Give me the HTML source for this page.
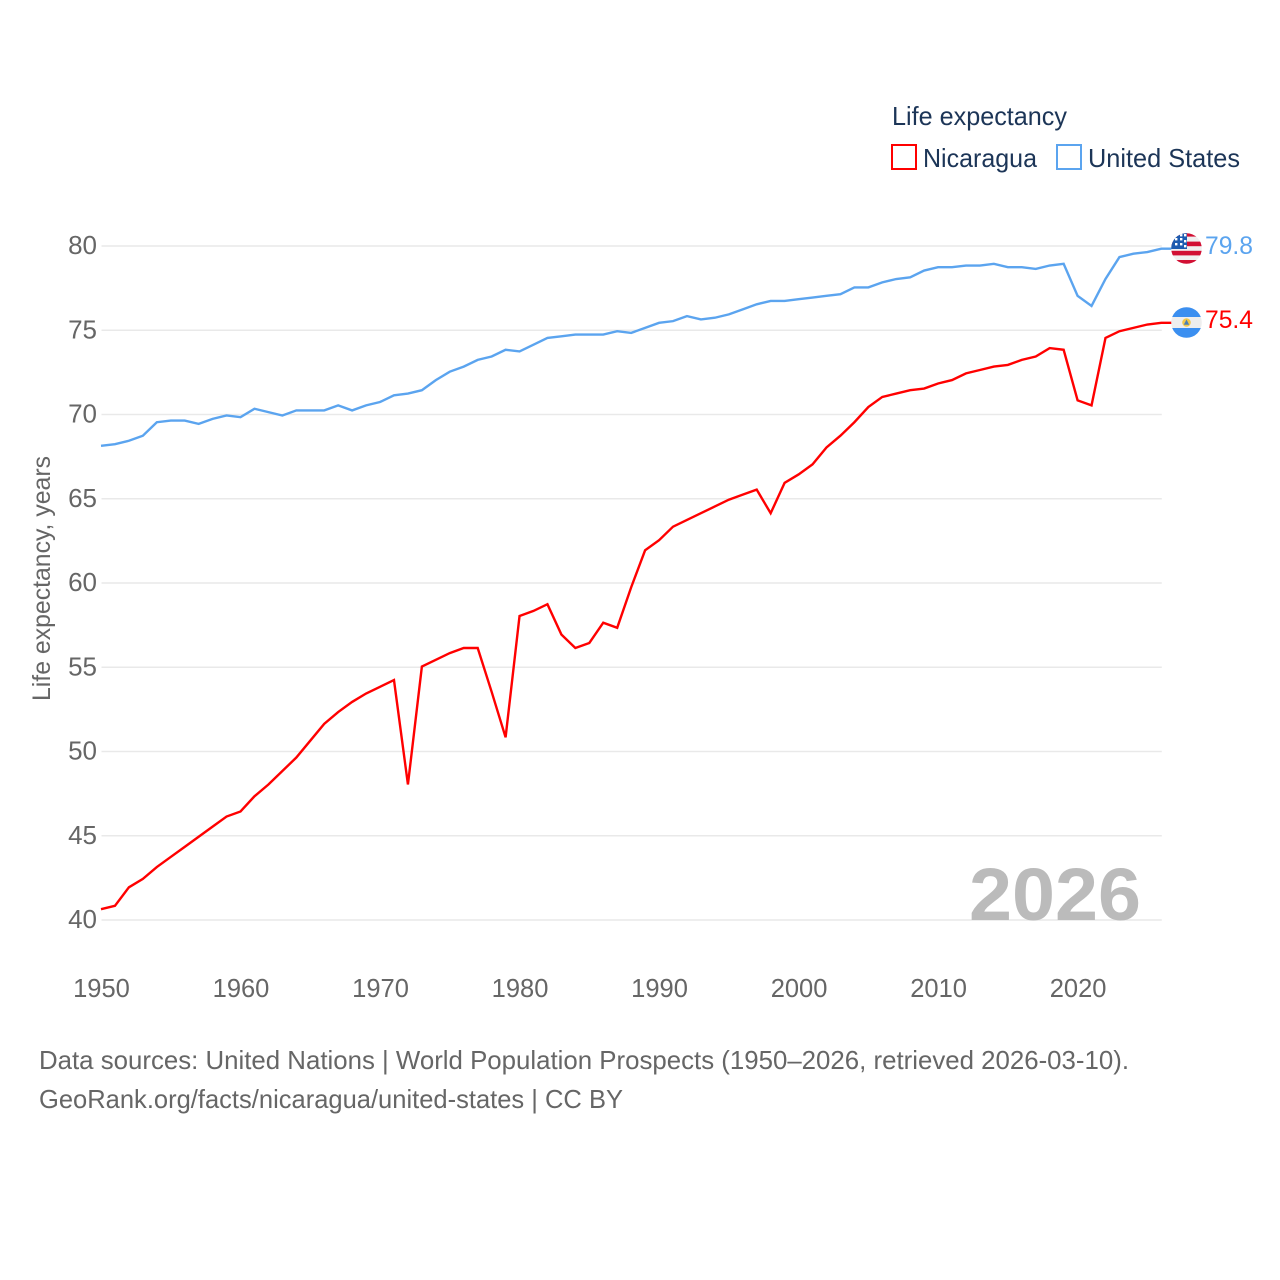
<!DOCTYPE html>
<html lang="en">
<head>
<meta charset="utf-8">
<title>Life expectancy: Nicaragua and United States</title>
<style>
html,body{margin:0;padding:0;background:#fff;}
svg{display:block;font-family:"Liberation Sans",sans-serif;}
</style>
</head>
<body>
<svg id="chart" xmlns="http://www.w3.org/2000/svg" width="1280" height="1280" viewBox="0 0 1280 1280">
  <defs>
    <clipPath id="us-clip"><circle cx="1186.5" cy="248.5" r="15.3"/></clipPath>
    <clipPath id="ni-clip"><circle cx="1186.5" cy="322.5" r="15.3"/></clipPath>
  </defs>
  <rect width="1280" height="1280" fill="#fff"/>

  <g>
    <text x="892" y="125" font-size="26" fill="#1c3557" textLength="175" lengthAdjust="spacingAndGlyphs">Life expectancy</text>
    <g>
      <rect x="892" y="145" width="24" height="24" fill="#fff" stroke="#ff0000" stroke-width="2"/>
      <text x="923" y="167" font-size="26" fill="#1c3557" textLength="114" lengthAdjust="spacingAndGlyphs">Nicaragua</text>
    </g>
    <g>
      <rect x="1057" y="145" width="24" height="24" fill="#fff" stroke="#5ba4ef" stroke-width="2"/>
      <text x="1088" y="167" font-size="26" fill="#1c3557" textLength="152" lengthAdjust="spacingAndGlyphs">United States</text>
    </g>
  </g>

  <g id="grid"></g>
  <g id="y-ticks"></g>
  <g id="x-ticks"></g>

  <text transform="translate(50,578.5) rotate(-90)" text-anchor="middle" font-size="25" fill="#666" textLength="245" lengthAdjust="spacingAndGlyphs">Life expectancy, years</text>

  <text x="969" y="920" font-size="74" font-weight="700" fill="#bbbbbb" textLength="172" lengthAdjust="spacingAndGlyphs">2026</text>

  <g id="series" transform="translate(-0.5,-0.7)"></g>

  <g>
    <g clip-path="url(#us-clip)">
      <rect x="1170" y="232" width="34" height="34" fill="#f0f0f0"/>
      <rect x="1170" y="232" width="34" height="4.6" fill="#d21034"/>
      <rect x="1170" y="241.6" width="34" height="4.6" fill="#d21034"/>
      <rect x="1170" y="250.8" width="34" height="4.6" fill="#d21034"/>
      <rect x="1170" y="260" width="34" height="5" fill="#d21034"/>
      <rect x="1170" y="232" width="17" height="17" fill="#1d5bb0"/>
      <g fill="#fff">
        <rect x="1175" y="238" width="2.4" height="2.4"/><rect x="1180" y="238" width="2.4" height="2.4"/><rect x="1184" y="234" width="2.4" height="2.4"/>
        <rect x="1180" y="234" width="2.4" height="2.4"/><rect x="1175" y="243" width="2.4" height="2.4"/><rect x="1180" y="243" width="2.4" height="2.4"/><rect x="1184" y="240" width="2.4" height="2.4"/><rect x="1184" y="245" width="2.4" height="2.4"/>
      </g>
    </g>
  </g>
  <g>
    <g clip-path="url(#ni-clip)">
      <rect x="1170" y="306" width="34" height="34" fill="#eeeeee"/>
      <rect x="1170" y="306" width="34" height="11" fill="#3b8ff0"/>
      <rect x="1170" y="328" width="34" height="11" fill="#3b8ff0"/>
      <circle cx="1186.5" cy="322.5" r="4.3" fill="#f2c94c"/>
      <polygon points="1186.5,319.5 1183.8,324.8 1189.2,324.8" fill="#4a7fb5"/>
    </g>
  </g>

  <text id="value-us" x="1205" y="254" font-size="25" fill="#5ba4ef" textLength="48" lengthAdjust="spacingAndGlyphs"></text>
  <text id="value-ni" x="1205" y="328" font-size="25" fill="#ff0000" textLength="48" lengthAdjust="spacingAndGlyphs"></text>

  <g>
    <text x="39" y="1069" font-size="26" fill="#666" textLength="1090" lengthAdjust="spacingAndGlyphs">Data sources: United Nations | World Population Prospects (1950–2026, retrieved 2026-03-10).</text>
    <text x="39" y="1108" font-size="26" fill="#666" textLength="584" lengthAdjust="spacingAndGlyphs">GeoRank.org/facts/nicaragua/united-states | CC BY</text>
  </g>
</svg>
<script>
const yearStart = 1950;
const yTickValues = [40, 45, 50, 55, 60, 65, 70, 75, 80];
const xTickYears = [1950, 1960, 1970, 1980, 1990, 2000, 2010, 2020];
const nicaraguaValues = [
  40.6, 40.8, 41.9, 42.4, 43.1, 43.7, 44.3, 44.9, 45.5, 46.1,
  46.4, 47.3, 48.0, 48.8, 49.6, 50.6, 51.6, 52.3, 52.9, 53.4,
  53.8, 54.2, 48.0, 55.0, 55.4, 55.8, 56.1, 56.1, 53.5, 50.8,
  58.0, 58.3, 58.7, 56.9, 56.1, 56.4, 57.6, 57.3, 59.7, 61.9,
  62.5, 63.3, 63.7, 64.1, 64.5, 64.9, 65.2, 65.5, 64.1, 65.9,
  66.4, 67.0, 68.0, 68.7, 69.5, 70.4, 71.0, 71.2, 71.4, 71.5,
  71.8, 72.0, 72.4, 72.6, 72.8, 72.9, 73.2, 73.4, 73.9, 73.8,
  70.8, 70.5, 74.5, 74.9, 75.1, 75.3, 75.4
];
const unitedStatesValues = [
  68.1, 68.2, 68.4, 68.7, 69.5, 69.6, 69.6, 69.4, 69.7, 69.9,
  69.8, 70.3, 70.1, 69.9, 70.2, 70.2, 70.2, 70.5, 70.2, 70.5,
  70.7, 71.1, 71.2, 71.4, 72.0, 72.5, 72.8, 73.2, 73.4, 73.8,
  73.7, 74.1, 74.5, 74.6, 74.7, 74.7, 74.7, 74.9, 74.8, 75.1,
  75.4, 75.5, 75.8, 75.6, 75.7, 75.9, 76.2, 76.5, 76.7, 76.7,
  76.8, 76.9, 77.0, 77.1, 77.5, 77.5, 77.8, 78.0, 78.1, 78.5,
  78.7, 78.7, 78.8, 78.8, 78.9, 78.7, 78.7, 78.6, 78.8, 78.9,
  77.0, 76.4, 78.0, 79.3, 79.5, 79.6, 79.8
];

const NS = 'http://www.w3.org/2000/svg';
function xScale(year) { return 101.5 + (year - 1950) * (1161.8 - 101.5) / 76; }
function yScale(v) { return 920 - (v - 40) * (920 - 246) / 40; }
function make(tag, attrs, parent) {
  const el = document.createElementNS(NS, tag);
  for (const k in attrs) el.setAttribute(k, attrs[k]);
  parent.appendChild(el);
  return el;
}

const gridG = document.getElementById('grid');
const yG = document.getElementById('y-ticks');
yTickValues.forEach(function (v) {
  const line = make('line', { x1: 101.5, x2: 1161.8, y1: yScale(v), y2: yScale(v), stroke: '#e9e9e9', 'stroke-width': 1.4 }, gridG);
  
  
  const t = make('text', { x: 97, y: yScale(v) + 8, 'text-anchor': 'end', 'font-size': 26, fill: '#666' }, yG);
  
  
  t.textContent = String(v);
});

const xG = document.getElementById('x-ticks');
xTickYears.forEach(function (yr) {
  const t = make('text', { x: xScale(yr), y: 997, 'text-anchor': 'middle', 'font-size': 25.5, fill: '#666' }, xG);
  
  
  t.textContent = String(yr);
});

const seriesG = document.getElementById('series');
function drawSeries(values, color, name) {
  const pts = values.map(function (v, i) {
    return xScale(yearStart + i).toFixed(2) + ',' + yScale(v).toFixed(2);
  });
  const last = values[values.length - 1];
  pts.push('1172,' + yScale(last).toFixed(2));
  const line = make('polyline', { points: pts.join(' '), fill: 'none', stroke: color, 'stroke-width': 2.4, 'stroke-linejoin': 'miter' }, seriesG);
  
  
}
drawSeries(unitedStatesValues, '#5ba4ef', 'line-united-states');
drawSeries(nicaraguaValues, '#ff0000', 'line-nicaragua');

document.getElementById('value-us').textContent = unitedStatesValues[unitedStatesValues.length - 1].toFixed(1);
document.getElementById('value-ni').textContent = nicaraguaValues[nicaraguaValues.length - 1].toFixed(1);
</script>
</body>
</html>
